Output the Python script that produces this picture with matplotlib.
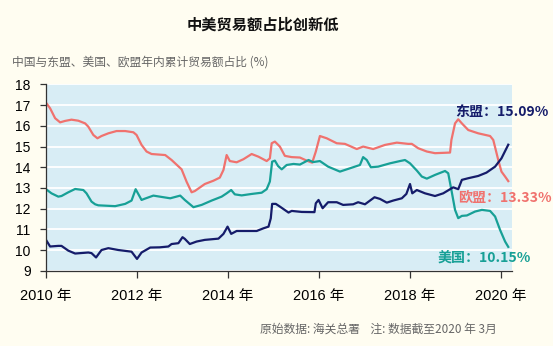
import matplotlib
matplotlib.use("Agg")
import matplotlib.pyplot as plt

plt.rcParams['font.family'] = ['Liberation Sans', 'Noto Sans CJK SC', 'DejaVu Sans']

# values, decimal years
eu_x = [2010.00, 2010.09, 2010.20, 2010.31, 2010.42, 2010.56, 2010.71, 2010.86, 2010.93,
        2011.04, 2011.13, 2011.22, 2011.37, 2011.55, 2011.74, 2011.92, 2011.99,
        2012.10, 2012.21, 2012.32, 2012.50, 2012.62, 2012.76, 2012.98,
        2013.09, 2013.20, 2013.27, 2013.49, 2013.68, 2013.82, 2013.90, 2013.97,
        2014.04, 2014.19, 2014.34, 2014.52, 2014.67, 2014.85, 2014.92, 2014.96,
        2015.03, 2015.14, 2015.25, 2015.40, 2015.58, 2015.73, 2015.85, 2015.93,
        2016.02, 2016.17, 2016.39, 2016.57, 2016.83, 2016.97,
        2017.19, 2017.45, 2017.71, 2017.96, 2018.04, 2018.18, 2018.37, 2018.55,
        2018.88, 2018.91, 2018.99, 2019.06, 2019.14, 2019.28, 2019.50, 2019.76,
        2019.83, 2019.94, 2020.01, 2020.09, 2020.16]
eu = [17.12, 16.85, 16.37, 16.17, 16.24, 16.30, 16.25, 16.12, 15.96,
      15.56, 15.40, 15.51, 15.64, 15.75, 15.75, 15.69, 15.56,
      15.08, 14.76, 14.64, 14.61, 14.59, 14.35, 13.90,
      13.30, 12.79, 12.85, 13.19, 13.35, 13.50, 13.87, 14.59,
      14.30, 14.24, 14.39, 14.64, 14.51, 14.30, 14.43, 15.16,
      15.24, 15.00, 14.55, 14.49, 14.47, 14.32, 14.22, 14.76,
      15.51, 15.40, 15.16, 15.13, 14.88, 15.00,
      14.88, 15.08, 15.19, 15.13, 15.13, 14.92, 14.76, 14.68,
      14.71, 15.32, 16.12, 16.32, 16.12, 15.80, 15.64, 15.51,
      15.32, 14.35, 13.79, 13.55, 13.33]

us_x = [2010.00, 2010.12, 2010.27, 2010.34, 2010.49, 2010.64, 2010.82, 2010.89,
        2011.00, 2011.08, 2011.15, 2011.52, 2011.74, 2011.88, 2011.97,
        2012.10, 2012.17, 2012.36, 2012.50, 2012.73, 2012.95,
        2013.05, 2013.24, 2013.42, 2013.64, 2013.86, 2013.97,
        2014.07, 2014.15, 2014.30, 2014.52, 2014.74, 2014.85, 2014.92, 2014.97,
        2015.03, 2015.10, 2015.18, 2015.29, 2015.44, 2015.58, 2015.77, 2015.87,
        2016.02, 2016.20, 2016.46, 2016.68, 2016.90, 2016.97,
        2017.05, 2017.14, 2017.30, 2017.56, 2017.78, 2017.89,
        2018.00, 2018.15, 2018.26, 2018.37, 2018.55, 2018.77, 2018.84, 2018.91, 2018.99,
        2019.06, 2019.14, 2019.25, 2019.43, 2019.58, 2019.76, 2019.87, 2019.98,
        2020.09, 2020.16]
us = [12.94, 12.74, 12.58, 12.61, 12.79, 12.95, 12.90, 12.74,
      12.34, 12.21, 12.16, 12.12, 12.23, 12.39, 12.94,
      12.42, 12.48, 12.63, 12.58, 12.50, 12.63,
      12.42, 12.07, 12.18, 12.39, 12.58, 12.74,
      12.90, 12.69, 12.64, 12.71, 12.77, 12.94, 13.31, 14.27,
      14.32, 14.06, 13.90, 14.11, 14.16, 14.13, 14.35, 14.25,
      14.30, 14.03, 13.79, 13.95, 14.11, 14.49,
      14.35, 14.00, 14.03, 14.19, 14.30, 14.35,
      14.19, 13.84, 13.55, 13.45, 13.63, 13.82, 13.71, 12.90, 11.94,
      11.54, 11.65, 11.67, 11.86, 11.94, 11.89, 11.62, 10.97,
      10.41, 10.15]

asean_x = [2010.00, 2010.09, 2010.27, 2010.34, 2010.49, 2010.64, 2010.93,
           2011.00, 2011.10, 2011.22, 2011.37, 2011.59, 2011.88,
           2012.00, 2012.10, 2012.29, 2012.50, 2012.69, 2012.76, 2012.91,
           2013.00, 2013.05, 2013.16, 2013.31, 2013.49, 2013.79, 2013.90, 2013.99,
           2014.07, 2014.19, 2014.37, 2014.63, 2014.78, 2014.89, 2014.94, 2014.97,
           2015.05, 2015.14, 2015.33, 2015.40, 2015.62, 2015.90, 2015.93, 2015.99,
           2016.08, 2016.20, 2016.39, 2016.53, 2016.75, 2016.86,
           2017.01, 2017.22, 2017.34, 2017.49, 2017.63, 2017.82, 2017.92,
           2018.00, 2018.05, 2018.15, 2018.33, 2018.55, 2018.73, 2018.95,
           2019.06, 2019.14, 2019.28, 2019.50, 2019.68, 2019.87, 2020.01, 2020.16]
asean = [10.49, 10.17, 10.20, 10.20, 9.97, 9.83, 9.88,
         9.85, 9.64, 10.00, 10.09, 10.00, 9.92,
         9.57, 9.88, 10.12, 10.13, 10.17, 10.29, 10.33,
         10.62, 10.54, 10.29, 10.41, 10.49, 10.55, 10.78, 11.13,
         10.78, 10.92, 10.92, 10.92, 11.05, 11.13, 11.53, 12.23,
         12.23, 12.10, 11.81, 11.89, 11.84, 11.83, 12.26, 12.42,
         12.02, 12.31, 12.31, 12.18, 12.21, 12.31,
         12.21, 12.55, 12.47, 12.29, 12.39, 12.50, 12.71,
         13.19, 12.74, 12.90, 12.74, 12.61, 12.74, 13.03,
         12.94, 13.39, 13.47, 13.58, 13.74, 14.03, 14.43, 15.09]

years = [2010, 2012, 2014, 2016, 2018, 2020]
year_labels = ["2010 年", "2012 年", "2014 年", "2016 年", "2018 年", "2020 年"]
yticks = [9, 10, 11, 12, 13, 14, 15, 16, 17, 18]

c_eu = "#F0726E"
c_us = "#17A096"
c_asean = "#151C6A"
cjk = ['Noto Sans CJK SC', 'DejaVu Sans']

fig = plt.figure(figsize=(5.53, 3.46), dpi=100, facecolor="#FFFDF1")
ax = fig.add_axes([0.0832, 0.2176, 0.8421, 0.5382])
ax.set_facecolor("#D8EDF5")

ax.plot(eu_x, eu, color=c_eu, lw=1.6, solid_joinstyle="round")
ax.plot(us_x, us, color=c_us, lw=1.6, solid_joinstyle="round")
ax.plot(asean_x, asean, color=c_asean, lw=1.6, solid_joinstyle="round")

ax.set_xlim(2010, 2020.235)
ax.set_ylim(9, 18)
ax.set_xticks(years)
ax.set_xticklabels(year_labels, fontsize=10.5)
ax.set_yticks(yticks)
ax.tick_params(axis="y", labelsize=10, length=4, width=0.9, color="#333333", pad=7)
ax.tick_params(axis="x", length=5, width=0.9, color="#333333", pad=8)
ax.yaxis.grid(True, color="white", lw=1.3)
ax.set_axisbelow(True)
for s in ["top", "right"]:
    ax.spines[s].set_visible(False)
for s in ["left", "bottom"]:
    ax.spines[s].set_color("#333333")
    ax.spines[s].set_linewidth(0.9)

# end labels
ax.text(2018.99, 16.69, "东盟：%.2f%%" % asean[-1], color=c_asean, fontsize=10.1,
        fontweight="bold", family=cjk, va="center", clip_on=False)
ax.text(2019.06, 12.52, "欧盟：%.2f%%" % eu[-1], color=c_eu, fontsize=10.1,
        fontweight="bold", family=cjk, va="center", clip_on=False)
ax.text(2018.61, 9.63, "美国：%.2f%%" % us[-1], color=c_us, fontsize=10.1,
        fontweight="bold", family=cjk, va="center", clip_on=False)

fig.text(0.475, 0.928, "中美贸易额占比创新低", fontsize=11, fontweight="bold",
         family=cjk, ha="center", va="center", color="#111111")
fig.text(0.021, 0.821, "中国与东盟、美国、欧盟年内累计贸易额占比 (%)", fontsize=8.5,
         family=cjk, ha="left", va="center", color="#666666")
fig.text(0.898, 0.049, "原始数据: 海关总署    注: 数据截至2020 年 3月", fontsize=8.5,
         family=cjk, ha="right", va="center", color="#666666")

fig.savefig("out.png", dpi=100, facecolor=fig.get_facecolor())
